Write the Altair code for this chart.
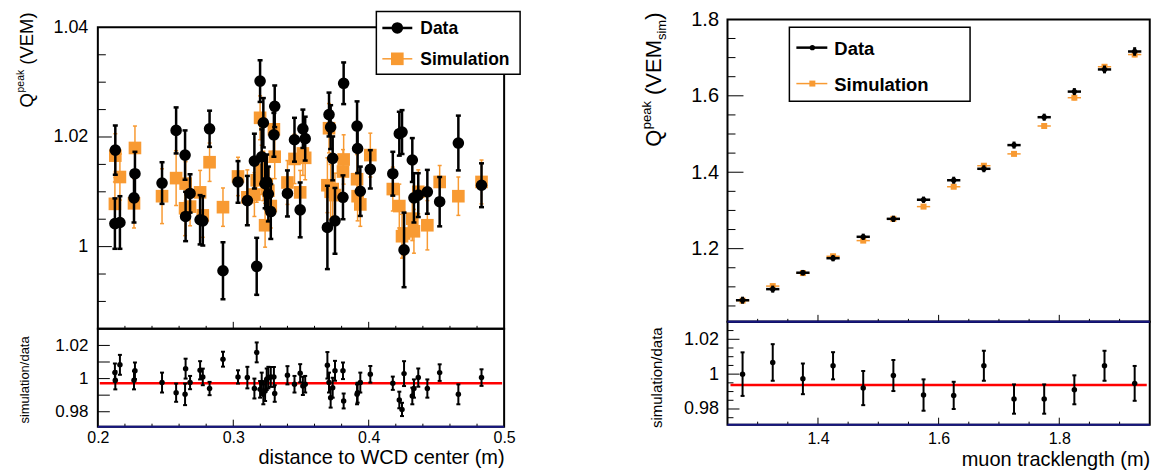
import altair as alt
import pandas as pd

FONT = "Liberation Sans"
ORANGE = "#f89a32"
NAVY = "#161680"
RED = "#ff0000"

# ---------------- left figure: Q_peak vs distance to WCD center ----------------
dist = [0.2129, 0.2126, 0.2163, 0.2274, 0.2267, 0.2474, 0.2578, 0.2644, 0.2648, 0.2681,
        0.2755, 0.2775, 0.2825, 0.2924, 0.3035, 0.3104, 0.3156, 0.3173, 0.3198, 0.3210,
        0.3222, 0.3235, 0.3247, 0.3259, 0.3277, 0.3300, 0.3306, 0.3400, 0.3452, 0.3494,
        0.3514, 0.3531, 0.3695, 0.3707, 0.3719, 0.3734, 0.3751, 0.3810, 0.3815, 0.3914,
        0.3918, 0.3938, 0.4012, 0.4178, 0.4226, 0.4246, 0.4261, 0.4322, 0.4334, 0.4366,
        0.4433, 0.4524, 0.4662, 0.4833]
q_data = [1.0176, 1.0042, 1.0044, 1.0133, 1.0089, 1.0116, 1.0212, 1.0167, 1.0055, 1.0097,
          1.0049, 1.0047, 1.0215, 0.9956, 1.0118, 1.0084, 1.0156, 0.9964, 1.0302, 1.0164,
          1.0226, 1.0115, 1.0118, 1.0096, 1.0064, 1.0204, 1.0256, 1.0097, 1.0195, 1.0067,
          1.0215, 1.0197, 1.0035, 1.0241, 1.0218, 1.0161, 1.0047, 1.0090, 1.0298, 1.0220,
          1.0179, 1.0101, 1.0141, 1.0133, 1.0206, 1.0209, 0.9994, 1.0158, 1.0089, 1.0094,
          1.0100, 1.0082, 1.0189, 1.0112]
q_data_err = [.0045, .0046, .0048, .0040, .0045, .0038, .0042, .0045, .0045, .0035,
              .0045, .0045, .0033, .0052, .0038, .0045, .0050, .0052, .0038, .0050,
              .0045, .0045, .0050, .0050, .0050, .0040, .0038, .0042, .0040, .0050,
              .0035, .0040, .0076, .0040, .0040, .0040, .0060, .0040, .0038, .0045,
              .0045, .0045, .0035, .0040, .0040, .0040, .0068, .0040, .0045, .0040,
              .0040, .0045, .0050, .0040]
q_sim = [1.0166, 1.0078, 1.0127, 1.0180, 1.0079, 1.0092, 1.0125, 1.0070, 1.0115, 1.0073,
         1.0099, 1.0057, 1.0154, 1.0072, 1.0128, 1.0090, 1.0095, 1.0121, 1.0235, 1.0140,
         1.0129, 1.0039, 1.0114, 1.0102, 1.0074, 1.0214, 1.0164, 1.0117, 1.0160, 1.0099,
         1.0170, 1.0162, 1.0112, 1.0216, 1.0100, 1.0105, 1.0094, 1.0137, 1.0159, 1.0123,
         1.0092, 1.0077, 1.0167, 1.0105, 1.0074, 1.0019, 1.0024, 1.0051, 1.0028, 1.0100,
         1.0039, 1.0118, 1.0092, 1.0118]
q_sim_err = [.0040, .0040, .0042, .0040, .0045, .0050, .0050, .0050, .0040, .0035,
             .0040, .0040, .0035, .0035, .0035, .0050, .0040, .0040, .0040, .0045,
             .0045, .0040, .0040, .0040, .0040, .0040, .0040, .0040, .0045, .0040,
             .0040, .0040, .0050, .0045, .0050, .0050, .0040, .0040, .0045, .0045,
             .0045, .0040, .0040, .0040, .0040, .0040, .0040, .0040, .0040, .0040,
             .0045, .0030, .0035, .0040]
ratio_l = [0.9990, 1.0036, 1.0083, 1.0047, 0.9990, 0.9976, 0.9915, 0.9905, 1.0060, 0.9976,
           1.0050, 1.0010, 0.9940, 1.0117, 1.0010, 1.0006, 0.9940, 1.0158, 0.9935, 0.9976,
           0.9905, 0.9925, 0.9996, 1.0006, 1.0010, 1.0010, 0.9910, 1.0020, 0.9966, 1.0032,
           0.9956, 0.9966, 1.0080, 0.9976, 0.9885, 0.9945, 1.0047, 1.0047, 0.9865, 0.9905,
           0.9915, 0.9976, 1.0026, 0.9972, 0.9871, 0.9814, 1.0030, 0.9895, 0.9940, 1.0006,
           0.9940, 1.0036, 0.9905, 1.0006]
ratio_l_err = [.0055, .0055, .0060, .0050, .0055, .0060, .0055, .0065, .0060, .0040,
               .0055, .0050, .0040, .0045, .0040, .0065, .0060, .0060, .0050, .0060,
               .0060, .0060, .0065, .0065, .0060, .0060, .0050, .0055, .0050, .0055,
               .0055, .0050, .0080, .0060, .0060, .0060, .0060, .0050, .0045, .0060,
               .0060, .0060, .0050, .0040, .0050, .0040, .0075, .0050, .0055, .0055,
               .0055, .0050, .0060, .0050]
fit_l = 0.9972

# ---------------- right figure: Q_peak vs muon tracklength ----------------
track = [1.275, 1.325, 1.375, 1.425, 1.475, 1.525, 1.575, 1.625, 1.675, 1.725, 1.775, 1.825, 1.875, 1.925]
track_err = [0.011, 0.011, 0.011, 0.011, 0.011, 0.011, 0.011, 0.011, 0.011, 0.011, 0.011, 0.011, 0.011, 0.011]
qt_data = [1.065, 1.094, 1.137, 1.175, 1.231, 1.278, 1.328, 1.379, 1.409, 1.471, 1.544, 1.611, 1.669, 1.716]
qt_data_err = [0.006, 0.006, 0.004, 0.005, 0.005, 0.005, 0.005, 0.006, 0.006, 0.006, 0.006, 0.006, 0.007, 0.008]
qt_sim = [1.064, 1.102, 1.136, 1.180, 1.221, 1.278, 1.310, 1.362, 1.417, 1.448, 1.521, 1.595, 1.676, 1.708]
qt_sim_err = [0.004, 0.004, 0.003, 0.004, 0.004, 0.004, 0.004, 0.004, 0.004, 0.004, 0.005, 0.005, 0.005, 0.005]
ratio_r = [1.0000, 1.0067, 0.9973, 1.0048, 0.9920, 0.9992, 0.9880, 0.9878, 1.0048, 0.9857, 0.9857, 0.9910, 1.0048, 0.9947]
ratio_r_err = [0.0125, 0.0105, 0.0088, 0.0078, 0.0098, 0.0089, 0.0090, 0.0078, 0.0086, 0.0084, 0.0084, 0.0083, 0.0086, 0.0100]
fit_r = 0.9937

# tick positions
lx_major = [0.3, 0.4]
lx_minor = [0.22, 0.24, 0.26, 0.28, 0.32, 0.34, 0.36, 0.38, 0.42, 0.44, 0.46, 0.48]
lyt_major = [1.0, 1.02]
lyt_minor = [0.99, 0.995, 1.005, 1.01, 1.015, 1.025, 1.03, 1.035]
lyr_ticks = [0.98, 0.99, 1.0, 1.01, 1.02]
rx_major = [1.4, 1.6, 1.8]
rx_minor = [1.3, 1.35, 1.45, 1.5, 1.55, 1.65, 1.7, 1.75, 1.85, 1.9]
ryt_major = [1.2, 1.4, 1.6]
ryt_minor = [1.05, 1.1, 1.15, 1.25, 1.3, 1.35, 1.45, 1.5, 1.55, 1.65, 1.7, 1.75]
ryr_major = [0.98, 1.0, 1.02]
ryr_minor = [0.975, 0.985, 0.99, 0.995, 1.005, 1.01, 1.015, 1.025]

legend_labels = ["Data", "Simulation"]

# ---------------- tables ----------------
dfl = pd.DataFrame({"x": dist, "qd": q_data, "qs": q_sim, "r": ratio_l})
dfl["qd_lo"] = dfl["qd"] - pd.Series(q_data_err)
dfl["qd_hi"] = dfl["qd"] + pd.Series(q_data_err)
dfl["qs_lo"] = dfl["qs"] - pd.Series(q_sim_err)
dfl["qs_hi"] = dfl["qs"] + pd.Series(q_sim_err)
dfl["r_lo"] = dfl["r"] - pd.Series(ratio_l_err)
dfl["r_hi"] = dfl["r"] + pd.Series(ratio_l_err)

dfr = pd.DataFrame({"x": track, "qd": qt_data, "qs": qt_sim, "r": ratio_r})
dfr["x_lo"] = dfr["x"] - pd.Series(track_err)
dfr["x_hi"] = dfr["x"] + pd.Series(track_err)
dfr["qd_lo"] = dfr["qd"] - pd.Series(qt_data_err)
dfr["qd_hi"] = dfr["qd"] + pd.Series(qt_data_err)
dfr["qs_lo"] = dfr["qs"] - pd.Series(qt_sim_err)
dfr["qs_hi"] = dfr["qs"] + pd.Series(qt_sim_err)
dfr["r_lo"] = dfr["r"] - pd.Series(ratio_r_err)
dfr["r_hi"] = dfr["r"] + pd.Series(ratio_r_err)

ONE = pd.DataFrame({"k": [0]})

LW, LHT, LHR = 407, 302, 98
RW, RHT, RHR = 423, 303, 103


def S(dom):
    return alt.Scale(domain=dom, nice=False, zero=False)


xs_l = S([0.2, 0.5])
ys_lt = S([0.985, 1.04])
ys_lr = S([0.971, 1.03])
xs_r = S([1.25, 1.95])
ys_rt = S([1.0084, 1.8])
ys_rr = S([0.971, 1.03])


def X(f, xs, ax):
    return alt.X(f"{f}:Q", scale=xs, axis=ax)


def Y(f, ys, ax):
    return alt.Y(f"{f}:Q", scale=ys, axis=ax)


def xticks(vals, xs, xa, H, L):
    return alt.Chart(pd.DataFrame({"t": vals})).mark_rule(color="black", strokeWidth=1).encode(
        x=X("t", xs, xa), y=alt.value(H), y2=alt.value(H - L))


def yticks(vals, ys, ya, L):
    return alt.Chart(pd.DataFrame({"t": vals})).mark_rule(color="black", strokeWidth=1).encode(
        y=Y("t", ys, ya), x=alt.value(0), x2=alt.value(L))


def errbar(df, x, lo, hi, xs, ys, xa, ya, color, w, cap):
    base = alt.Chart(df)
    rule = base.mark_rule(color=color, strokeWidth=w).encode(
        x=X(x, xs, xa), y=Y(lo, ys, ya), y2=alt.Y2(f"{hi}:Q"))
    c1 = base.mark_tick(color=color, orient="horizontal", size=cap, thickness=w, opacity=1).encode(
        x=X(x, xs, xa), y=Y(lo, ys, ya))
    c2 = base.mark_tick(color=color, orient="horizontal", size=cap, thickness=w, opacity=1).encode(
        x=X(x, xs, xa), y=Y(hi, ys, ya))
    return [rule, c1, c2]


def hbar(df, lo, hi, y, xs, ys, xa, ya, color, w):
    return alt.Chart(df).mark_rule(color=color, strokeWidth=w).encode(
        x=X(lo, xs, xa), x2=alt.X2(f"{hi}:Q"), y=Y(y, ys, ya))


def hline_px(y, x1, x2, color, w, op=1):
    return alt.Chart(ONE).mark_rule(color=color, strokeWidth=w, opacity=op).encode(
        x=alt.value(x1), x2=alt.value(x2), y=alt.value(y))


def rot_text(txt, x, y, size):
    # vertical axis-title piece, read bottom-to-top, its end placed at (x, y)
    return alt.Chart(ONE).mark_text(text=txt, angle=270, align="right", baseline="alphabetic",
                                    font=FONT, fontSize=size, color="black").encode(
        x=alt.value(x), y=alt.value(y))


def legend(x1, x2, y1, y2, lx1, lx2, mx, tx, yd, ys_, fsize, dsize, ssize, dw, sw):
    box = alt.Chart(ONE).mark_rect(fill="white", stroke="black", strokeWidth=1.5).encode(
        x=alt.value(x1), x2=alt.value(x2), y=alt.value(y1), y2=alt.value(y2))
    l1 = hline_px(yd, lx1, lx2, "black", dw)
    l2 = hline_px(ys_, lx1, lx2, ORANGE, sw)
    m1 = alt.Chart(ONE).mark_point(shape="circle", filled=True, color="black", opacity=1, size=dsize).encode(
        x=alt.value(mx), y=alt.value(yd))
    m2 = alt.Chart(ONE).mark_point(shape="square", filled=True, color=ORANGE, opacity=1, size=ssize).encode(
        x=alt.value(mx), y=alt.value(ys_))
    t1 = alt.Chart(ONE).mark_text(text=legend_labels[0], align="left", baseline="middle", font=FONT,
                                  fontWeight="bold", fontSize=fsize, color="black").encode(
        x=alt.value(tx), y=alt.value(yd + 1))
    t2 = alt.Chart(ONE).mark_text(text=legend_labels[1], align="left", baseline="middle", font=FONT,
                                  fontWeight="bold", fontSize=fsize, color="black").encode(
        x=alt.value(tx), y=alt.value(ys_ + 1))
    return [box, l1, l2, m1, m2, t1, t2]


# ---------------- left top panel ----------------
lt_ya = alt.Axis(values=[1.0, 1.02, 1.04], format="~g", labelFontSize=18, labelPadding=10, title=None)
lt_xa = None

lt_layers = [xticks(lx_minor, xs_l, lt_xa, LHT, 3), xticks(lx_major, xs_l, lt_xa, LHT, 7),
             yticks(lyt_minor, ys_lt, lt_ya, 8), yticks(lyt_major, ys_lt, lt_ya, 14)]
lt_layers += errbar(dfl, "x", "qs_lo", "qs_hi", xs_l, ys_lt, lt_xa, lt_ya, ORANGE, 1.5, 4)
lt_layers.append(alt.Chart(dfl).mark_point(shape="square", filled=True, color=ORANGE, opacity=1, size=160).encode(
    x=X("x", xs_l, lt_xa), y=Y("qs", ys_lt, lt_ya)))
lt_layers += errbar(dfl, "x", "qd_lo", "qd_hi", xs_l, ys_lt, lt_xa, lt_ya, "black", 2.5, 5)
lt_layers.append(alt.Chart(dfl).mark_point(shape="circle", filled=True, color="black", opacity=1, size=135).encode(
    x=X("x", xs_l, lt_xa), y=Y("qd", ys_lt, lt_ya)))
lt_layers += legend(279, 423, -16, 47, 285, 315, 300, 323, 0.6, 31.5, 17.5, 135, 160, 2.5, 1.5)
# y title  Q^peak (VEM)
lt_layers += [rot_text("(VEM)", -64.5, -15, 18.5), rot_text("peak", -74, 42.5, 10.5),
              rot_text("Q", -64.5, 65.8, 18.5)]
# invisible anchor fixing the top-left corner of the page
lt_layers.append(hline_px(-15.5, -88.5, -87.5, "white", 1, 0))
left_top = alt.layer(*lt_layers).properties(width=LW, height=LHT)

# ---------------- left ratio panel ----------------
lr_ya = alt.Axis(values=[0.98, 1.0, 1.02], format="~g", labelFontSize=17, labelPadding=10,
                 title="simulation/data", titleFontSize=13, titleAngle=270, titleAlign="right",
                 titleBaseline="alphabetic", titleX=-69, titleY=7)
lr_xa = alt.Axis(values=[0.2, 0.3, 0.4, 0.5], format="~g", labelFontSize=16, labelPadding=3,
                 labelFlush=False, labelOverlap=False,
                 title="distance to WCD center (m)", titleFontSize=20, titleAlign="right",
                 titleBaseline="alphabetic", titleX=LW, titleY=37)
lr_layers = [xticks(lx_minor, xs_l, lr_xa, LHR, 3), xticks(lx_major, xs_l, lr_xa, LHR, 7),
             yticks(lyr_ticks, ys_lr, lr_ya, 12),
             hline_px(LHR, 0, LW, NAVY, 2),
             alt.Chart(pd.DataFrame({"fit": [fit_l]})).mark_rule(color=RED, strokeWidth=2.5).encode(
                 y=Y("fit", ys_lr, lr_ya), x=alt.value(2), x2=alt.value(LW - 2))]
lr_layers += errbar(dfl, "x", "r_lo", "r_hi", xs_l, ys_lr, lr_xa, lr_ya, "black", 2, 4)
lr_layers.append(alt.Chart(dfl).mark_point(shape="circle", filled=True, color="black", opacity=1, size=30).encode(
    x=X("x", xs_l, lr_xa), y=Y("r", ys_lr, lr_ya)))
left_ratio = alt.layer(*lr_layers).properties(width=LW, height=LHR)

spacer = alt.Chart(ONE, view=alt.ViewBackground(strokeOpacity=0)).mark_point(opacity=0).properties(
    width=LW, height=8)

# ---------------- right top panel ----------------
rt_ya = alt.Axis(values=[1.2, 1.4, 1.6, 1.8], format="~g", labelFontSize=20, labelPadding=9, title=None)
rt_xa = None
rt_layers = [xticks(rx_minor, xs_r, rt_xa, RHT, 3), xticks(rx_major, xs_r, rt_xa, RHT, 7),
             yticks(ryt_minor, ys_rt, rt_ya, 8), yticks(ryt_major, ys_rt, rt_ya, 16),
             hline_px(RHT, 0, RW, NAVY, 2)]
rt_layers.append(hbar(dfr, "x_lo", "x_hi", "qs", xs_r, ys_rt, rt_xa, rt_ya, ORANGE, 1.5))
rt_layers += errbar(dfr, "x", "qs_lo", "qs_hi", xs_r, ys_rt, rt_xa, rt_ya, ORANGE, 1.5, 3)
rt_layers.append(alt.Chart(dfr).mark_point(shape="square", filled=True, color=ORANGE, opacity=1, size=36).encode(
    x=X("x", xs_r, rt_xa), y=Y("qs", ys_rt, rt_ya)))
rt_layers.append(hbar(dfr, "x_lo", "x_hi", "qd", xs_r, ys_rt, rt_xa, rt_ya, "black", 2.5))
rt_layers += errbar(dfr, "x", "qd_lo", "qd_hi", xs_r, ys_rt, rt_xa, rt_ya, "black", 2.5, 3)
rt_layers.append(alt.Chart(dfr).mark_point(shape="circle", filled=True, color="black", opacity=1, size=28).encode(
    x=X("x", xs_r, rt_xa), y=Y("qd", ys_rt, rt_ya)))
rt_layers += legend(62, 243, 8, 82, 69, 100, 85, 107, 28.3, 64.3, 18.5, 28, 36, 2.5, 1.5)
# y title  Q^peak (VEM_sim)
rt_layers += [rot_text(")", -67, -7, 22), rot_text("sim", -62, 0.5, 13), rot_text("(VEM", -67, 20.7, 22),
              rot_text("peak", -77, 81.8, 13), rot_text("Q", -67, 110.5, 22)]
# invisible anchor fixing the left/top edge of the right column
rt_layers.append(hline_px(-7.5, -92, -91, "white", 1, 0))
right_top = alt.layer(*rt_layers).properties(width=RW, height=RHT)

# ---------------- right ratio panel ----------------
rr_ya = alt.Axis(values=[0.98, 1.0, 1.02], format="~g", labelFontSize=18, labelPadding=9,
                 title="simulation/data", titleFontSize=15, titleAngle=270, titleAlign="right",
                 titleBaseline="alphabetic", titleX=-66, titleY=5)
rr_xa = alt.Axis(values=[1.4, 1.6, 1.8], format="~g", labelFontSize=16, labelPadding=6,
                 labelFlush=False, labelOverlap=False,
                 title="muon tracklength (m)", titleFontSize=20, titleAlign="right",
                 titleBaseline="alphabetic", titleX=RW, titleY=41)
rr_layers = [xticks(rx_minor, xs_r, rr_xa, RHR, 3), xticks(rx_major, xs_r, rr_xa, RHR, 7),
             yticks(ryr_minor, ys_rr, rr_ya, 6), yticks(ryr_major, ys_rr, rr_ya, 12),
             hline_px(0, 0, RW, NAVY, 2), hline_px(RHR, 0, RW, NAVY, 2),
             alt.Chart(pd.DataFrame({"fit": [fit_r]})).mark_rule(color=RED, strokeWidth=2.5).encode(
                 y=Y("fit", ys_rr, rr_ya), x=alt.value(3), x2=alt.value(RW - 3))]
rr_layers += errbar(dfr, "x", "r_lo", "r_hi", xs_r, ys_rr, rr_xa, rr_ya, "black", 2, 4)
rr_layers.append(alt.Chart(dfr).mark_point(shape="circle", filled=True, color="black", opacity=1, size=30).encode(
    x=X("x", xs_r, rr_xa), y=Y("r", ys_rr, rr_ya)))
right_ratio = alt.layer(*rr_layers).properties(width=RW, height=RHR)

left = alt.vconcat(spacer, left_top, left_ratio, spacing=0, bounds="flush")
right = alt.vconcat(right_top, right_ratio, spacing=0, bounds="flush")

chart = alt.hconcat(left, right, spacing=112.75).properties(
    padding=0, background="white"
).configure_view(
    stroke="black", strokeWidth=2
).configure_axis(
    labelFont=FONT, titleFont=FONT, labelColor="black", titleColor="black",
    titleFontWeight="normal", grid=False, ticks=False, tickSize=0, domain=False
)

chart.save("out.html", embed_options={"renderer": "svg", "actions": False})
